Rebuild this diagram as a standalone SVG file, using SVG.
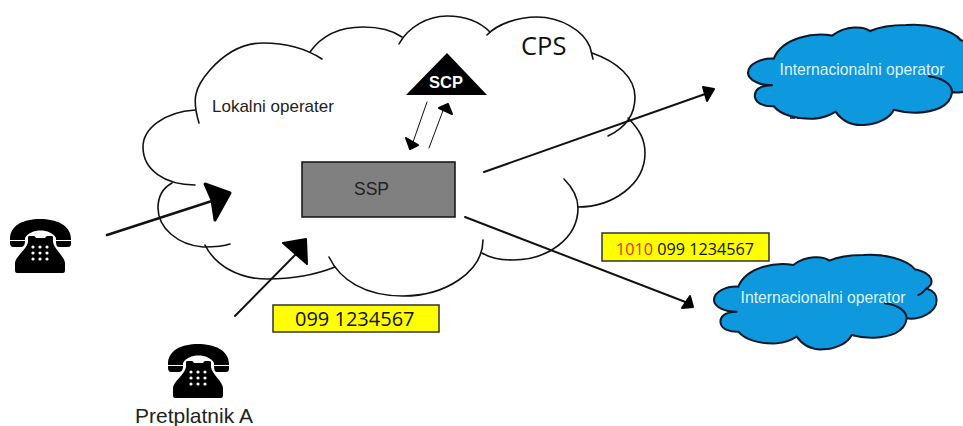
<svg xmlns="http://www.w3.org/2000/svg" width="963" height="426" viewBox="0 0 963 426">
<style>
.lobe{fill:none;stroke:#111;stroke-width:1.6;stroke-linecap:round}
.line{fill:none;stroke:#111;stroke-linecap:round}
.head{fill:#000;stroke:#000;stroke-width:2;stroke-linejoin:round}
.sans{font-family:"Liberation Sans",Arial,sans-serif;fill:#222}
.open{font-family:"Open Sans","Liberation Sans",sans-serif;fill:#111}
.intl{font-family:"Liberation Sans",Arial,sans-serif;font-size:15.7px;fill:#dff3ff;text-anchor:middle}
.tag{fill:#ff0;stroke:#333;stroke-width:1.5}
.cl{fill:#0e98dd;stroke:#0d1a2b;stroke-width:6;stroke-linejoin:round}
.cli{fill:none;stroke:#0d1a2b;stroke-width:6;stroke-linecap:round}
</style>
<defs>
<g id="phone">
<path d="M0,20 C0,6 14,0 30,0 C46,0 61,6 61,20 L61,24 C61,27 60,28 58,28 L49,28 C47,28 46,26 46,23 L46,19 C41,9 20,9 15,19 L15,23 C15,26 13,28 11,28 L3,28 C1,28 0,26 0,24Z" fill="#000"/>
<path d="M0,21.5H15M46,21.5H61" stroke="#fff" stroke-width="1" fill="none"/>
<path d="M7,54 Q5,54 5,51 L5,44 C5,38 17,30 18,23 L18,18 Q18,17 20,17 L24,17 Q25,17 26,19 L35,19 Q36,17 37,17 L41,17 Q43,17 43,18 L43,23 C44,30 55,38 55,44 L55,51 Q55,54 53,54Z" fill="#000"/>
<g fill="#fff"><circle cx="23" cy="28" r="1.6"/><circle cx="30" cy="28" r="1.6"/><circle cx="37" cy="28" r="1.6"/><circle cx="23" cy="34" r="1.6"/><circle cx="30" cy="34" r="1.6"/><circle cx="37" cy="34" r="1.6"/><circle cx="23" cy="40" r="1.6"/><circle cx="30" cy="40" r="1.6"/><circle cx="37" cy="40" r="1.6"/></g>
</g>
<g id="bluecloud">
<path class="cl" d="M445,200 C410,198 372,215 372,240 C372,262 410,277 440,275 C405,275 388,290 392,310 C396,330 425,336 445,335 C465,360 510,372 560,370 C585,368 605,360 620,350 C640,378 670,390 700,388 C740,386 775,368 785,345 C830,358 880,355 915,340 C935,330 948,315 950,295 C985,300 1040,280 1040,240 C1040,225 1030,212 1010,205 C1035,190 1030,160 975,148 C950,118 880,100 820,105 C790,105 745,110 718,122 C700,108 650,105 610,135 C560,125 470,140 445,200Z"/>
<path class="cli" d="M1010,205 C1000,215 995,222 985,225M885,250 C920,255 950,270 950,295"/>
</g>
</defs>
<rect width="963" height="426" fill="#fff"/>
<g id="cloud-cps">
<path class="lobe" d="M195,110 C165,112 143,128 143,147 C143,170 165,185 195,185"/>
<path class="lobe" d="M199,123 C192,100 194,88 210,70 C226,52 245,43 263,43 C285,43 305,48 322,59"/>
<path class="lobe" d="M310,52 C322,35 340,27 363,27 C378,27 392,30 402,37"/>
<path class="lobe" d="M399,44 C408,27 428,16 447,16 C465,16 480,22 490,32"/>
<path class="lobe" d="M487,35 C497,24 518,17 537,17 C560,17 583,30 590,47 L593,59"/>
<path class="lobe" d="M592,53 C618,62 635,78 635,97 C635,115 625,128 608,136"/>
<path class="lobe" d="M628,118 C640,130 645,140 645,153 C645,185 612,207 578,207"/>
<path class="lobe" d="M564,179 C573,188 578,197 578,208 C578,238 548,260 513,260 C500,260 490,258 482,253"/>
<path class="lobe" d="M483,240 C483,272 445,296 403,296 C365,296 340,280 329,257"/>
<path class="lobe" d="M335,267 C315,275 292,279 267,279 C238,279 215,265 205,245"/>
<path class="lobe" d="M230,244 C222,247 212,247 203,247 C178,245 158,228 158,208 C158,197 163,188 172,183"/>
<text class="sans" x="212" y="112" font-size="17">Lokalni operater</text>
<text class="open" x="521" y="55" font-size="25.5">CPS</text>
</g>
<g id="ssp">
<rect x="302" y="162" width="153" height="55" fill="#808080" stroke="#111" stroke-width="1.5"/>
<text class="sans" x="354" y="195" font-size="17.5">SSP</text>
</g>
<g id="scp">
<polygon points="447,53 406,95 487,95" fill="#000"/>
<text x="429" y="88" font-family="Liberation Sans,Arial,sans-serif" font-weight="bold" font-size="16.5" fill="#fff">SCP</text>
</g>
<g id="phone-left"><use href="#phone" x="10" y="219"/></g>
<g id="phone-a">
<use href="#phone" x="168" y="344"/>
<text class="sans" x="135" y="423" font-size="21">Pretplatnik A</text>
</g>
<g id="operator-top">
<use href="#bluecloud" transform="translate(616.7,-12) scale(.353)"/>
<path d="M790,118H805" stroke="#0d1a2b" stroke-width="1.5" stroke-dasharray="5 2" fill="none"/>
<text class="intl" x="862" y="75">Internacionalni operator</text>
</g>
<g id="operator-bottom">
<use href="#bluecloud" transform="translate(590,220) scale(.3333)"/>
<text class="intl" x="823" y="303">Internacionalni operator</text>
</g>
<g id="tag-a">
<rect class="tag" x="273" y="305" width="166" height="27"/>
<text class="open" x="295" y="326" font-size="20">099 1234567</text>
</g>
<g id="tag-b">
<rect class="tag" x="602" y="233" width="167" height="28"/>
<text class="open" x="616" y="255" font-size="16.2"><tspan fill="#e0301a">1010</tspan> 099 1234567</text>
</g>
<g id="connectors">
<path class="line" stroke-width="2.5" d="M107,235L215,200"/>
<polygon class="head" style="stroke-width:3" points="205,184 230,193 215,220 212,200"/>
<path class="line" stroke-width="2" d="M235,316L297,253"/>
<polygon class="head" points="283,243 306,239 307,264"/>
<path class="line" stroke-width="2" d="M484,172L708,93"/>
<polygon class="head" points="703,87 714,89 707,101"/>
<path class="line" stroke-width="2" d="M465,217L688,303"/>
<polygon class="head" points="690,296 693,307 682,308"/>
<path class="line" stroke-width="1" d="M427,102L412,145"/>
<polygon class="head" points="406,138 418,145 410,149"/>
<path class="line" stroke-width="1" d="M429,148L444,108"/>
<polygon class="head" points="439,108 448,104 452,114"/>
</g>
</svg>
